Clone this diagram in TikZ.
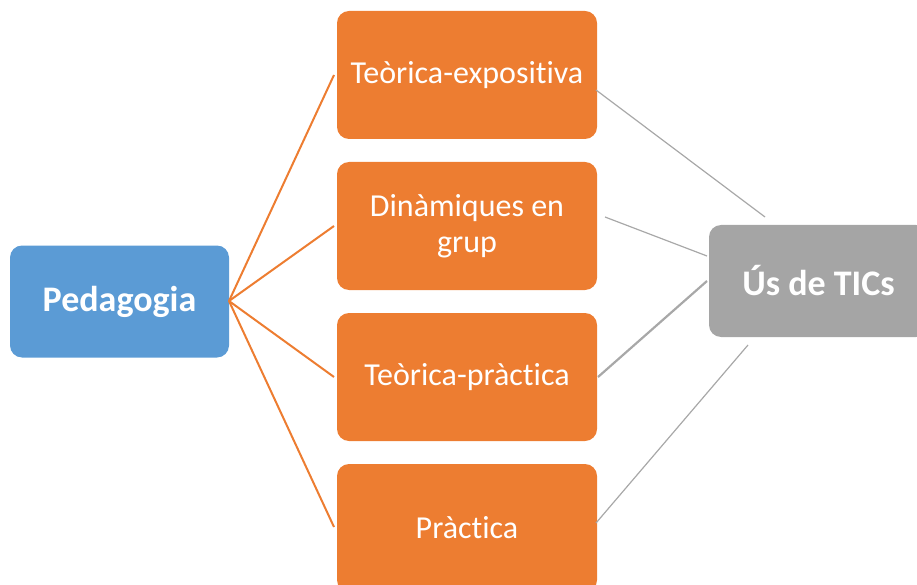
\documentclass[tikz,border=0pt]{standalone}
\usepackage{fontspec}
\setmainfont[Ligatures=NoCommon]{Carlito}
\definecolor{cblue}{HTML}{5B9BD5}
\definecolor{corange}{HTML}{ED7D31}
\definecolor{cgray}{HTML}{A5A5A5}
\definecolor{cline}{HTML}{A8A8A8}
\tikzset{
  box/.style={rounded corners=12pt, inner sep=0pt, align=center, text=white},
  ped/.style={box, fill=cblue, minimum width=219pt, minimum height=112pt, font=\fontsize{36}{40}\selectfont\bfseries},
  obox/.style={box, fill=corange, minimum width=260pt, minimum height=128pt, font=\fontsize{32}{36}\selectfont},
  gbox/.style={box, fill=cgray, minimum width=219pt, minimum height=112pt, font=\fontsize{36}{40}\selectfont\bfseries},
  oline/.style={draw=corange, line width=2pt},
  gline/.style={draw=cline, line width=1.2pt},
  gthick/.style={draw=cline, line width=2.2pt},
}
\begin{document}
\begin{tikzpicture}[x=1pt,y=-1pt]
\useasboundingbox (0,0) rectangle (917,585);
\begin{scope}
\clip (0,0) rectangle (917,585);
\node[ped] (ped) at (119.5,301.5) {Pedagogia};
\node[obox] (t1) at (467,75) {Teòrica-expositiva};
\node[obox] (t2) at (467,226) {Dinàmiques en\\grup};
\node[obox] (t3) at (467,377) {Teòrica-pràctica};
\node[obox] (t4) at (467,528) {Pràctica};
\node[gbox] (tic) at (818.5,281) {Ús de TICs};
\end{scope}
% connector end points
\coordinate (p) at (229,301);
\coordinate (a1) at (334,75);
\coordinate (a2) at (334,226);
\coordinate (a3) at (334,377);
\coordinate (a4) at (334,527);
\coordinate (b1s) at (596,90);   \coordinate (b1e) at (765,217);
\coordinate (b2s) at (605,217);  \coordinate (b2e) at (707,256);
\coordinate (b3s) at (598,377);  \coordinate (b3e) at (707,281);
\coordinate (b4s) at (596,523);  \coordinate (b4e) at (748,345);
\draw[oline] (p) -- (a1);
\draw[oline] (p) -- (a2);
\draw[oline] (p) -- (a3);
\draw[oline] (p) -- (a4);
\draw[gline] (b1s) -- (b1e);
\draw[gline] (b2s) -- (b2e);
\draw[gthick] (b3s) -- (b3e);
\draw[gline] (b4s) -- (b4e);
\end{tikzpicture}
\end{document}
